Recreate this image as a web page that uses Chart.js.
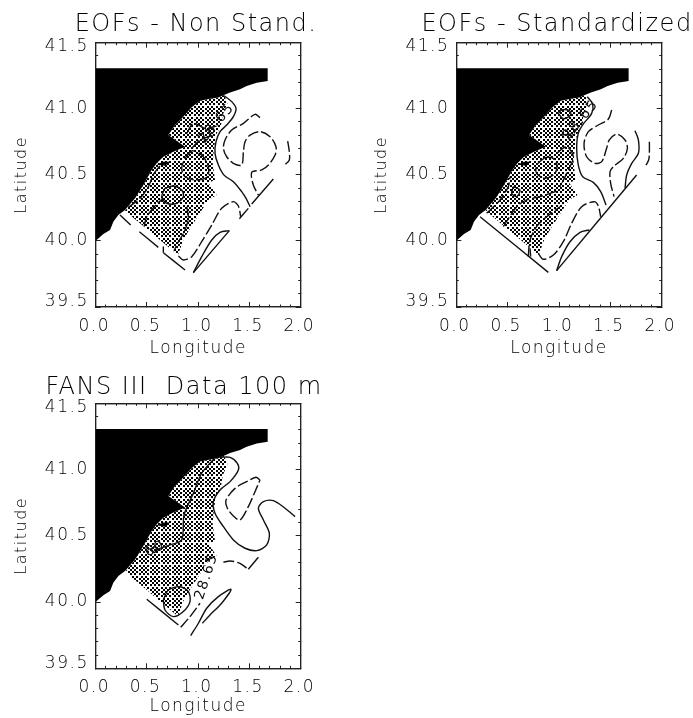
<!DOCTYPE html>
<html>
<head>
<meta charset="utf-8">
<script src="https://cdn.jsdelivr.net/npm/chart.js@4"></script>
<style>
  html, body { margin: 0; background: #fff; overflow: hidden; width: 693px; height: 718px; }
  canvas { position: absolute; }
</style>
</head>
<body>
<canvas id="chart-a" width="400" height="360" style="left:0;top:0"></canvas>
<canvas id="chart-b" width="394" height="360" style="left:360px;top:0"></canvas>
<canvas id="chart-c" width="400" height="358" style="left:0;top:360px"></canvas>
<script>
// [lon, lat]
var land = [[0,41.306],[1.678,41.306],[1.678,41.21],[1.571,41.197],[1.473,41.172],[1.408,41.147],[1.311,41.124],[1.252,41.104],[1.197,41.086],[1.115,41.076],[1.018,41.061],[0.937,41.011],[0.839,40.927],[0.774,40.877],[0.709,40.801],[0.872,40.713],[0.758,40.675],[0.660,40.637],[0.595,40.587],[0.546,40.537],[0.465,40.423],[0.384,40.322],[0.286,40.234],[0.221,40.196],[0.172,40.146],[0.140,40.083],[0.075,40.052],[0,40.002],[0,41.306]];
var stipple = [[0.286,40.229],[0.384,40.322],[0.465,40.423],[0.546,40.537],[0.595,40.587],[0.660,40.637],[0.758,40.675],[0.872,40.713],[0.709,40.801],[0.774,40.877],[0.839,40.927],[0.937,41.011],[1.018,41.061],[1.115,41.076],[1.197,41.086],[1.252,41.104],[1.285,41.041],[1.239,40.953],[1.223,40.877],[1.174,40.801],[1.154,40.701],[1.141,40.587],[1.164,40.461],[1.099,40.441],[1.180,40.347],[1.099,40.310],[0.985,40.173],[0.901,40.070],[0.852,40.002],[0.803,39.893],[0.286,40.229]];
var blob = [[0.595,40.579],[0.660,40.600],[0.725,40.600],[0.676,40.569],[0.595,40.579]];

var nonStandSolid = [
  [[1.252,41.099],[1.327,41.054],[1.369,41.003],[1.343,40.940],[1.278,40.877],[1.213,40.827],[1.174,40.751],[1.164,40.663],[1.197,40.574],[1.252,40.498],[1.343,40.448],[1.424,40.373],[1.467,40.322],[1.506,40.259]],
  [[0.953,39.760],[1.304,40.078]],
  [[1.402,40.168],[1.489,40.246]],
  [[1.522,40.279],[1.733,40.468]],
  [[0.953,39.760],[1.034,39.881],[1.132,40.007],[1.213,40.065],[1.304,40.078]],
  [[0.237,40.196],[0.341,40.120]],
  [[0.426,40.070],[0.611,39.951]],
  [[0.660,39.911],[0.872,39.780]],
  [[0.660,39.957],[0.660,39.911]],
  [[0.676,40.398],[0.644,40.335],[0.693,40.284],[0.790,40.284],[0.855,40.335],[0.839,40.385],[0.758,40.416],[0.676,40.398]]
];
var nonStandDashed = [
  [[1.603,40.933],[1.554,40.958],[1.441,40.890],[1.327,40.839],[1.262,40.764],[1.246,40.701],[1.278,40.637],[1.343,40.587],[1.424,40.574],[1.441,40.675],[1.457,40.751],[1.506,40.801],[1.603,40.827],[1.701,40.789],[1.759,40.713],[1.750,40.650],[1.685,40.574],[1.620,40.537],[1.522,40.519],[1.538,40.423],[1.587,40.347]],
  [[1.873,40.756],[1.889,40.675],[1.889,40.612],[1.850,40.579]],
  [[0.807,39.886],[0.855,39.856],[0.937,39.881],[1.034,39.994],[1.132,40.120],[1.229,40.247],[1.343,40.297],[1.392,40.264],[1.415,40.183]],
  [[0.937,40.683],[0.872,40.625],[0.839,40.549],[0.872,40.486],[0.985,40.461],[1.089,40.486],[1.099,40.562],[1.050,40.637],[0.985,40.675],[0.937,40.683]],
  [[0.319,40.254],[0.433,40.322],[0.514,40.410],[0.569,40.511],[0.628,40.569]],
  [[0.472,40.108],[0.498,40.183],[0.595,40.279],[0.660,40.322]],
  [[0.888,40.259],[0.904,40.171],[0.865,40.070],[0.807,39.994],[0.764,39.926]],
  [[0.888,40.814],[0.953,40.890],[1.067,40.852],[1.180,40.869]],
  [[0.937,40.701],[1.018,40.764],[1.148,40.801]]
];

var standSolid = [
  [[1.276,41.091],[1.328,41.036],[1.318,40.965],[1.237,40.885],[1.188,40.814],[1.172,40.701],[1.188,40.574],[1.231,40.486],[1.334,40.443],[1.406,40.373],[1.458,40.272]],
  [[1.740,40.834],[1.773,40.764],[1.773,40.663],[1.708,40.587],[1.659,40.499],[1.643,40.398]],
  [[0.977,39.775],[1.756,40.499]],
  [[0.977,39.775],[1.026,39.881],[1.107,39.994],[1.205,40.065],[1.295,40.083]],
  [[0.231,40.183],[0.896,39.762]],
  [[0.718,39.944],[0.724,39.881]],
  [[0.555,40.410],[0.620,40.385],[0.588,40.335],[0.539,40.360],[0.555,40.410]],
  [[0.994,40.965],[1.042,40.925],[1.114,40.953],[1.101,40.986],[1.026,40.991],[0.994,40.965]]
];
var standDashed = [
  [[1.513,40.991],[1.481,40.922],[1.383,40.877],[1.286,40.827],[1.244,40.739],[1.269,40.637],[1.351,40.587],[1.416,40.600],[1.464,40.701],[1.490,40.764],[1.562,40.809],[1.643,40.764],[1.666,40.701],[1.627,40.625],[1.529,40.562],[1.497,40.524],[1.503,40.436],[1.536,40.335]],
  [[1.880,40.751],[1.880,40.663],[1.873,40.612],[1.847,40.574]],
  [[0.799,39.906],[0.847,39.861],[0.945,39.893],[1.042,39.994],[1.123,40.133],[1.221,40.259],[1.344,40.297],[1.383,40.264],[1.406,40.183]],
  [[0.864,40.632],[0.782,40.574],[0.782,40.511],[0.864,40.474],[0.961,40.511],[0.977,40.587],[0.929,40.630],[0.864,40.632]],
  [[0.295,40.209],[0.425,40.310],[0.506,40.410],[0.523,40.486]],
  [[0.458,40.108],[0.588,40.259],[0.685,40.310],[0.815,40.335],[1.010,40.385]],
  [[0.701,39.881],[0.718,40.007],[0.782,40.108],[0.880,40.183],[1.010,40.259]],
  [[0.977,40.663],[1.075,40.713],[1.140,40.637],[1.091,40.537],[1.010,40.410]],
  [[1.010,40.801],[1.140,40.814],[1.172,40.852]]
];

var fansSolid = [
  [[1.213,41.092],[1.311,41.092],[1.382,41.047],[1.392,40.997],[1.311,40.909],[1.213,40.846],[1.148,40.758],[1.164,40.670],[1.246,40.569],[1.343,40.469],[1.457,40.406],[1.571,40.388],[1.668,40.431],[1.694,40.519],[1.636,40.619],[1.587,40.708],[1.636,40.758],[1.733,40.765],[1.847,40.708],[1.945,40.645]],
  [[0.498,40.021],[0.807,39.827]],
  [[0.927,39.747],[1.002,39.840],[1.083,39.953],[1.197,40.041],[1.320,40.096],[1.229,39.991],[1.115,39.903],[1.041,39.840]],
  [[0.660,40.016],[0.709,40.091],[0.823,40.116],[0.904,40.079],[0.920,40.003],[0.855,39.928],[0.758,39.890],[0.676,39.940],[0.660,40.016]],
  [[1.148,41.077],[1.034,40.972],[0.953,40.821],[0.862,40.657],[0.839,40.469],[0.725,40.431],[0.579,40.393]],
  [[0.569,40.418],[0.602,40.398],[0.569,40.373],[0.537,40.398],[0.569,40.418]],
  [[1.489,40.247],[1.587,40.338]]
];
var fansDashed = [
  [[1.603,40.921],[1.564,40.942],[1.473,40.909],[1.359,40.858],[1.272,40.770],[1.285,40.708],[1.343,40.650],[1.408,40.619],[1.489,40.720],[1.554,40.833],[1.603,40.921]],
  [[1.246,40.300],[1.311,40.310],[1.408,40.292],[1.489,40.247]],
  [[0.829,39.810],[0.920,39.890],[1.018,39.991]]
];

var xTicks = [0, 2, 0.5, 0.1];
var yTicks = [39.5, 41.5, 0.5, 0.1];

var nonStandLabels = [[1.180, 40.890, '28.65', -50]];
var standLabels = [[1.211, 40.915, '28.65', -50]];
var fansLabels = [[1.083, 40.192, '28.65', -72], [0.579, 40.400, '60', -25]];

var ink = '#222';
var textInk = '#000';
var family = '"DejaVu Sans"';
var lightWeight = 200;

// staggered dots, about 4.4px apart like the original hatching
var stippleTile = document.createElement('canvas');
stippleTile.width = 22;
stippleTile.height = 22;
var tileCtx = stippleTile.getContext('2d');
tileCtx.fillRect(0, 0, 10, 10);
tileCtx.fillRect(11, 11, 10, 10);
var stipplePattern = tileCtx.createPattern(stippleTile, 'repeat');
stipplePattern.setTransform(new DOMMatrix().scale(0.2));

// rotated contour labels, placed through the scales
var contourLabels = {
    id: 'contourLabels',
    beforeDraw: function (chart) {
        chart.ctx.letterSpacing = '1.5px';
        // the end labels of the latitude axis sit inside the frame in the original
        var items = chart.scales.y.getLabelItems(chart.chartArea);
        items[0].options.translation[1] -= 5;
        items[items.length - 1].options.translation[1] += 4;
    },
    afterDatasetsDraw: function (chart, args, opts) {
        var ctx = chart.ctx;
        opts.items.forEach(function (item) {
            ctx.save();
            ctx.translate(chart.scales.x.getPixelForValue(item[0]), chart.scales.y.getPixelForValue(item[1]));
            ctx.rotate(item[3] * Math.PI / 180);
            ctx.font = '14px ' + family;
            ctx.fillStyle = '#111';
            ctx.textAlign = 'center';
            ctx.textBaseline = 'middle';
            ctx.fillText(item[2], 0, 0);
            ctx.restore();
        });
    }
};

function area(points, color) {
    return { data: points, showLine: true, fill: 'shape', backgroundColor: color, borderColor: color, borderWidth: 0, pointRadius: 0 };
}

function contour(points, dashed) {
    return { data: points, showLine: true, fill: false, borderColor: '#111', borderWidth: 1.4, borderDash: dashed ? [11, 3] : [], pointRadius: 0, tension: 0.3 };
}

function tickAxis(axis, position, range, step, length, size, weight) {
    return {
        type: 'linear', axis: axis, position: position, min: range[0], max: range[1], weight: weight,
        ticks: { display: false, stepSize: step },
        grid: { drawOnChartArea: false, tickLength: -length, tickColor: ink, tickWidth: 1 },
        border: { display: true, color: ink, width: 1.2 },
        afterFit: function (scale) {
            if (axis === 'x') scale.height = size; else scale.width = size;
        }
    };
}

function makeChart(id, titleText, solid, dashed, labels, box) {
    var datasets = [];
    solid.forEach(function (p) { datasets.push(contour(p, false)); });
    dashed.forEach(function (p) { datasets.push(contour(p, true)); });
    datasets.push(area(blob, '#000'));
    datasets.push(area(stipple, stipplePattern));
    datasets.push(area(land, '#000'));

    var x = tickAxis('x', 'bottom', xTicks, xTicks[2], 5, box.bottom, 1);
    x.ticks = { display: true, stepSize: xTicks[2], color: textInk, font: { family: family, size: 17, weight: lightWeight }, padding: 14, labelOffset: -1.5, maxRotation: 0,
        callback: function (v) { return v.toFixed(1); } };
    x.title = { display: true, text: 'Longitude', color: textInk, font: { family: family, size: 17, weight: lightWeight }, padding: { top: 0, bottom: box.xTitle } };

    var y = tickAxis('y', 'left', yTicks, yTicks[2], 5, box.left, 1);
    y.ticks = { display: true, stepSize: yTicks[2], color: textInk, font: { family: family, size: 17, weight: lightWeight }, padding: 12,
        callback: function (v) { return v.toFixed(1); } };
    y.title = { display: true, text: 'Latitude', color: textInk, font: { family: family, size: 16, weight: lightWeight }, padding: { top: 12, bottom: 0 } };

    return new Chart(document.getElementById(id), {
        type: 'scatter',
        data: { datasets: datasets },
        plugins: [contourLabels],
        options: {
            responsive: false,
            animation: false,
            layout: { padding: { right: box.padRight } },
            plugins: {
                legend: { display: false },
                tooltip: { enabled: false },
                contourLabels: { items: labels },
                title: { display: true, text: titleText, color: textInk, font: { family: family, size: 24, weight: lightWeight }, padding: box.titlePad }
            },
            scales: {
                x: x,
                y: y,
                xMinor: tickAxis('x', 'bottom', xTicks, xTicks[3], 2.5, 0, 0),
                yMinor: tickAxis('y', 'left', yTicks, yTicks[3], 2.5, 0, 0),
                xTop: tickAxis('x', 'top', xTicks, xTicks[2], 5, 0, 0),
                xTopMinor: tickAxis('x', 'top', xTicks, xTicks[3], 2.5, 0, 0),
                yRight: tickAxis('y', 'right', yTicks, yTicks[2], 5, box.right, 1),
                yRightMinor: tickAxis('y', 'right', yTicks, yTicks[3], 2.5, 0, 0)
            }
        }
    });
}

makeChart('chart-a', 'EOFs - Non Stand.', nonStandSolid, nonStandDashed, nonStandLabels,
    { left: 95.7, right: 91.3, bottom: 53, padRight: 8, xTitle: 1, titlePad: { top: 10.5, bottom: 3.4 } });
makeChart('chart-b', 'EOFs - Standardized', standSolid, standDashed, standLabels,
    { left: 96.3, right: 92.3, bottom: 53, padRight: 0, xTitle: 1, titlePad: { top: 10.5, bottom: 3.4 } });
makeChart('chart-c', 'FANS III  Data 100 m', fansSolid, fansDashed, fansLabels,
    { left: 95.7, right: 67.3, bottom: 49.7, padRight: 32, xTitle: 1, titlePad: { top: 13.5, bottom: 1 } });
</script>
</body>
</html>
